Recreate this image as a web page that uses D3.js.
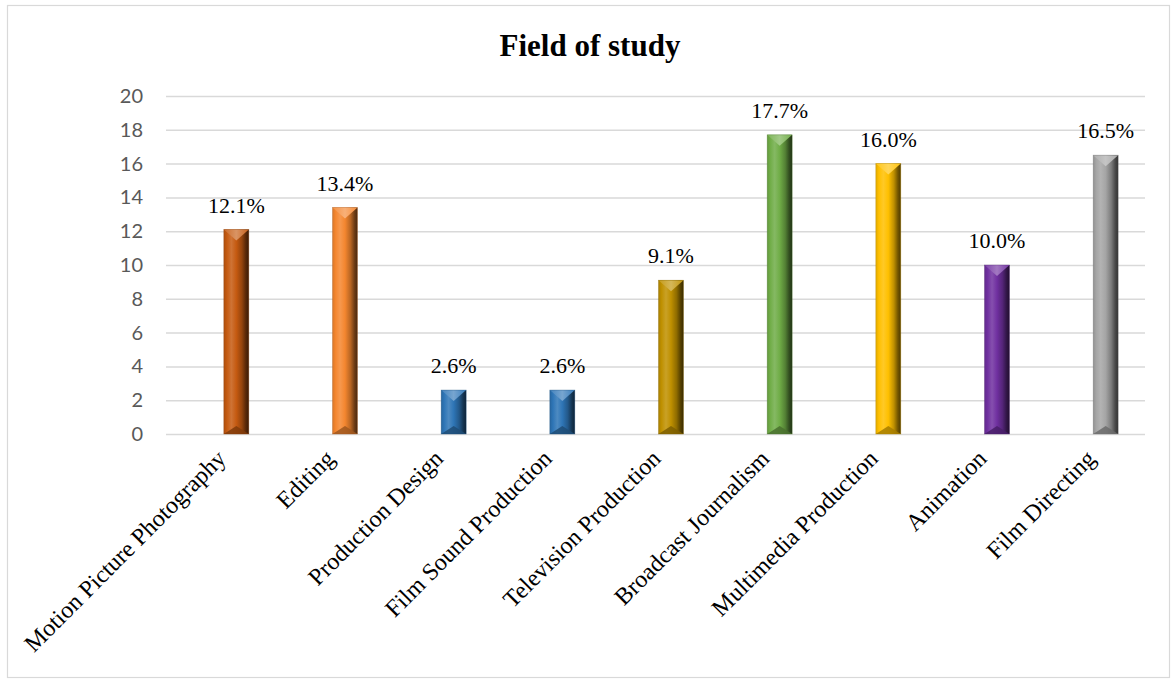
<!DOCTYPE html>
<html>
<head>
<meta charset="utf-8">
<script src="https://cdn.jsdelivr.net/npm/d3@7"></script>
<style>
  html, body { margin: 0; padding: 0; background: #ffffff; }
  svg { display: block; }
</style>
</head>
<body>
<svg id="chart" width="1173" height="680"></svg>
<script>
// Share of respondents by field of study (%)
const categories = [
  "Motion Picture Photography", "Editing", "Production Design",
  "Film Sound Production", "Television Production", "Broadcast Journalism",
  "Multimedia Production", "Animation", "Film Directing"
];
const values = [12.1, 13.4, 2.6, 2.6, 9.1, 17.7, 16.0, 10.0, 16.5];
const valueLabels = ["12.1%", "13.4%", "2.6%", "2.6%", "9.1%", "17.7%", "16.0%", "10.0%", "16.5%"];
const barColors = ["#C55A11", "#F4862F", "#2E75B6", "#2E75B6", "#BF9000",
                   "#70AD47", "#FFC000", "#7030A0", "#A5A5A5"];
const yTicks = [0, 2, 4, 6, 8, 10, 12, 14, 16, 18, 20];

const svg = d3.select("#chart");

// chart frame
svg.append("rect")
  .attr("x", 7.5).attr("y", 5.5)
  .attr("width", 1162).attr("height", 672)
  .attr("fill", "#fff").attr("stroke", "#d9d9d9").attr("stroke-width", 1.2);

// title
svg.append("text")
  .attr("x", 590).attr("y", 56)
  .attr("text-anchor", "middle")
  .attr("font-family", "'Liberation Serif', 'Times New Roman', serif")
  .attr("font-weight", "bold")
  .attr("font-size", 31)
  .attr("fill", "#000")
  .text("Field of study");

const gridLeft = 166, gridRight = 1145;
const y = d3.scaleLinear().domain([0, 20]).range([434, 96]);
const x = d3.scaleBand().domain(categories).range([182, 1160]).padding(0);

// y axis with gridlines
const yAxis = svg.append("g")
  .attr("transform", `translate(${gridLeft},0)`)
  .call(d3.axisLeft(y).tickValues(yTicks).tickSize(-(gridRight - gridLeft)).tickPadding(23).tickFormat(d3.format("d")));
yAxis.select(".domain").remove();
yAxis.selectAll(".tick line").attr("stroke", "#d9d9d9").attr("stroke-width", 1.5);
yAxis.selectAll(".tick text")
  .attr("font-family", "Lato, 'Open Sans', sans-serif")
  .attr("font-size", 20)
  .attr("fill", "#595959");

// bar gradients
const defs = svg.append("defs");
function shade(c, k) {
  return k >= 0 ? d3.interpolateRgb(c, "#ffffff")(k) : d3.interpolateRgb(c, "#000000")(-k);
}
barColors.forEach((c, i) => {
  const g = defs.append("linearGradient").attr("id", "body" + i)
    .attr("x1", "0").attr("x2", "1").attr("y1", "0").attr("y2", "0");
  [[0, shade(c, -0.12)], [0.12, shade(c, 0.0)], [0.3, shade(c, 0.15)], [0.5, c],
   [0.72, shade(c, -0.25)], [0.88, shade(c, -0.55)], [1, shade(c, -0.7)]]
    .forEach(([o, col]) => g.append("stop").attr("offset", o).attr("stop-color", col));
  const t = defs.append("linearGradient").attr("id", "top" + i)
    .attr("x1", "0").attr("x2", "1").attr("y1", "0").attr("y2", "0");
  [[0, shade(c, 0.1)], [0.5, shade(c, 0.35)], [1, shade(c, 0.05)]]
    .forEach(([o, col]) => t.append("stop").attr("offset", o).attr("stop-color", col));
});

const barW = 25;
const bars = svg.append("g").selectAll("g.bar")
  .data(values.map((v, i) => ({ v, i, c: categories[i] })))
  .join("g").attr("class", "bar");

bars.each(function (d) {
  const g = d3.select(this);
  const cx = x(d.c) + x.bandwidth() / 2;
  const x0 = cx - barW / 2, x1 = cx + barW / 2;
  const top = y(d.v), bot = y(0);
  const bevT = Math.min(11, (bot - top) / 2), bevB = Math.min(8, (bot - top) / 3);
  g.append("rect")
    .attr("x", x0).attr("y", top).attr("width", barW).attr("height", bot - top)
    .attr("fill", `url(#body${d.i})`);
  // top bevel
  g.append("path")
    .attr("d", `M${x0},${top}L${x1},${top}L${cx},${top + bevT}Z`)
    .attr("fill", `url(#top${d.i})`);
  // bottom bevel
  g.append("path")
    .attr("d", `M${x0},${bot}L${x1},${bot}L${cx},${bot - bevB}Z`)
    .attr("fill", shade(barColors[d.i], -0.35)).attr("opacity", 0.85);
  g.append("rect")
    .attr("x", x0).attr("y", top).attr("width", barW).attr("height", bot - top)
    .attr("fill", "none").attr("stroke", shade(barColors[d.i], -0.3)).attr("stroke-width", 0.6).attr("stroke-opacity", 0.6);
});

// value labels
svg.append("g").selectAll("text")
  .data(values)
  .join("text")
  .attr("x", (d, i) => x(categories[i]) + x.bandwidth() / 2)
  .attr("y", d => y(d) - 17)
  .attr("text-anchor", "middle")
  .attr("font-family", "'Liberation Serif', 'Times New Roman', serif")
  .attr("font-size", 22)
  .attr("fill", "#000")
  .text((d, i) => valueLabels[i]);

// category axis
const xAxis = svg.append("g")
  .attr("transform", `translate(0,${y(0)})`)
  .call(d3.axisBottom(x).tickSize(0).tickPadding(0));
xAxis.select(".domain").remove();
xAxis.selectAll(".tick text")
  .attr("font-family", "'Liberation Serif', 'Times New Roman', serif")
  .attr("font-size", 24)
  .attr("fill", "#000")
  .attr("text-anchor", "end")
  .attr("dy", "0.35em")
  .attr("transform", "translate(-15,20) rotate(-45)");
</script>
</body>
</html>
